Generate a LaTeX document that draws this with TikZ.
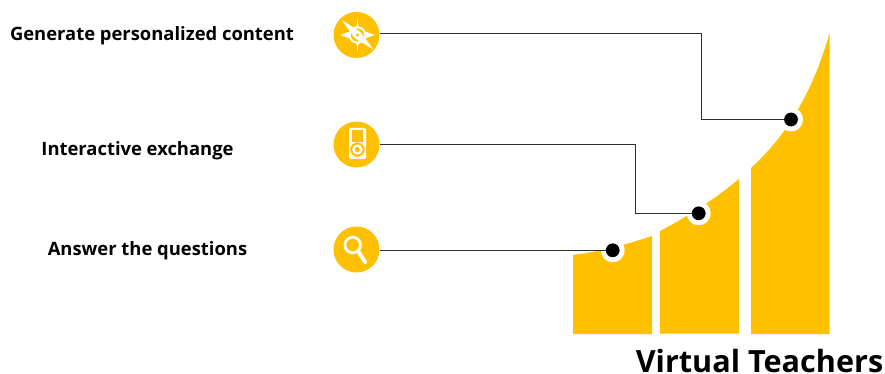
\documentclass[tikz,border=0pt]{standalone}
\usepackage{fontspec}
\setmainfont{Open Sans}
\definecolor{gold}{HTML}{FFC000}
\definecolor{wire}{HTML}{303030}
\tikzset{
  badge/.style={circle,fill=gold,minimum size=46pt,inner sep=0pt},
  halo/.style={circle,fill=white,minimum size=24pt,inner sep=0pt},
  pin/.style={circle,fill=black,minimum size=13.8pt,inner sep=0pt},
  wirepath/.style={draw=wire,line width=1pt},
  caption/.style={anchor=center,inner sep=0pt,font=\fontsize{18.4}{22}\selectfont\bfseries},
  bar/.style={fill=gold},
  glyph/.style={fill=white}
}
\begin{document}
\begin{tikzpicture}[x=1pt,y=-1pt]
\useasboundingbox (0,0) rectangle (885,374);
% bars
\fill[bar] (573,255) .. controls (600,251.5) and (625,245) .. (652,236) -- (652,334) -- (573,334) -- cycle;
\fill[bar] (660,231) .. controls (687,217) and (715,199) .. (739,179) -- (739,333.5) -- (660,333.5) -- cycle;
\fill[bar] (751,168) .. controls (785,137) and (812,95) .. (829.5,33) -- (829.5,334) -- (751,334) -- cycle;
% badges
\node[badge] (c1) at (356.5,35) {};
\node[badge] (c2) at (356.5,144.5) {};
\node[badge] (c3) at (356.5,249.5) {};
% halos
\node[halo] (h1) at (612.7,250.3) {};
\node[halo] (h2) at (698.7,213.3) {};
\node[halo] (h3) at (791,119.5) {};
% pins
\node[pin] (d1) at (h1) {};
\node[pin] (d2) at (h2) {};
\node[pin] (d3) at (h3) {};
% connectors
\coordinate (e1) at (701,34);
\coordinate (e2) at (635,145);
\draw[wirepath] (c1.east |- e1) -- (e1) -- (e1 |- d3) -- (d3);
\draw[wirepath] (c2.east |- e2) -- (e2) -- (e2 |- d2) -- (d2);
\draw[wirepath] (c3.east |- d1) -- (d1);
% compass glyph
\begin{scope}[shift={(357.5,35)}]
\fill[glyph] (0,-17) -- (1.2,-6) -- (17,0) -- (1.2,6) -- (0,17) -- (-1.2,6) -- (-17,0) -- (-1.2,-6) -- cycle;
\fill[glyph] (0,0) circle (8.8);
\fill[gold] (0,0) circle (6.6);
\fill[glyph] (-15.7,-15) -- (3,-3) -- (15.7,14.3) -- (-3,3) -- cycle;
\fill[gold] (0,0) circle (1.7);
\end{scope}
% player glyph
\fill[glyph,rounded corners=1.5pt] (349,127.8) rectangle (366,159);
\fill[gold] (351.8,130.5) rectangle (363.2,142);
\fill[gold] (357.4,149.6) circle (7.2);
\fill[glyph] (357.4,149.6) circle (5.2);
\fill[gold] (357.4,149.6) circle (2.6);
% magnifier glyph
\draw[white,line width=2.7pt] (352.7,245) circle (7.8);
\draw[white,line width=3.8pt,line cap=round] (358.6,251.8) -- (365.4,262.6);
% captions
\node[caption] (t1) at (152,36) {Generate personalized content};
\node[caption] (t2) at (137.5,150.5) {Interactive exchange};
\node[caption] (t3) at (147.5,250.5) {Answer the questions};
\node[anchor=base,inner sep=0pt,font=\fontsize{30.6}{36}\selectfont\bfseries] (t4) at (759.5,372.5) {Virtual Teachers};
\end{tikzpicture}
\end{document}
